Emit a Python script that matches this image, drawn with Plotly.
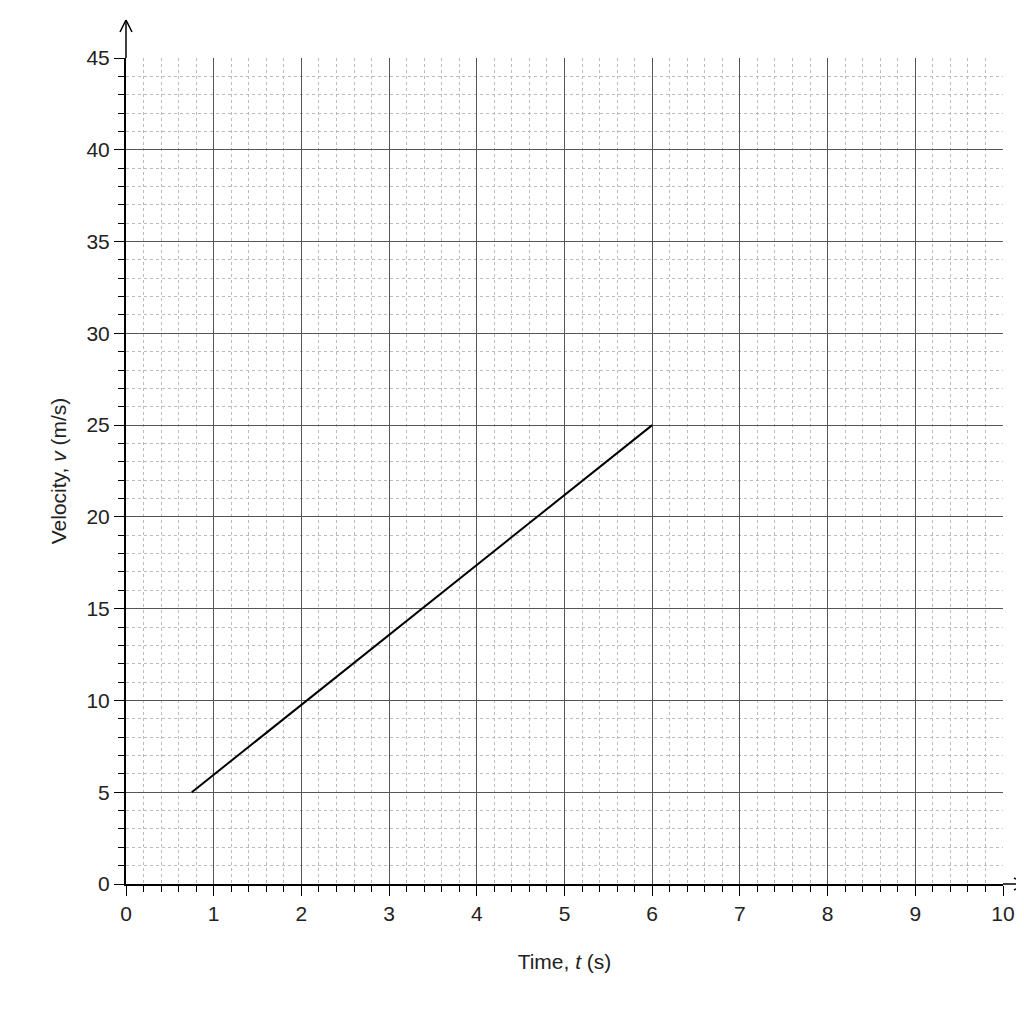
import plotly.graph_objects as go

time_s = [0.75, 6]
velocity = [5, 25]
x_ticks = list(range(0, 11))
y_ticks = list(range(0, 50, 5))

W, H = 877.0, 826.0  # plot domain size in px

fig = go.Figure(go.Scatter(x=time_s, y=velocity, mode="lines",
                           line=dict(color="black", width=2), showlegend=False))
font = dict(family="Liberation Sans, Arial, sans-serif", size=21, color="#222")
fig.update_layout(width=1024, height=1024, margin=dict(l=118, r=29, t=50, b=148),
                  plot_bgcolor="white", paper_bgcolor="white", font=font)
fig.update_xaxes(range=[0, 10], tickvals=x_ticks, showgrid=True, gridcolor="#555", gridwidth=1,
                 tickfont=font, automargin=False,
                 minor=dict(dtick=0.2, showgrid=True, gridcolor="#bbb", griddash="dot",
                            ticks="outside", ticklen=6, tickcolor="black"),
                 ticks="outside", ticklen=10, tickcolor="black", showline=True, linecolor="black",
                 linewidth=2, zeroline=False, title=dict(text="Time, <i>t</i> (s)", standoff=30, font=font))
fig.update_yaxes(range=[0, 45], tickvals=y_ticks, showgrid=True, gridcolor="#555", gridwidth=1,
                 tickfont=font, automargin=False,
                 minor=dict(dtick=1, showgrid=True, gridcolor="#bbb", griddash="dot",
                            ticks="outside", ticklen=6, tickcolor="black"),
                 ticks="outside", ticklen=10, tickcolor="black", showline=True, linecolor="black",
                 linewidth=2, zeroline=False, title=dict(text="Velocity, <i>v</i> (m/s)", standoff=14, font=font))
ln = dict(color="black", width=1.5)
xt = 1 + 23 / W
yt = 1 + 38 / H
fig.add_shape(type="line", xref="paper", yref="paper", x0=1, x1=xt, y0=0, y1=0, line=ln)
fig.add_shape(type="line", xref="paper", yref="paper", x0=xt - 12 / W, x1=xt, y0=6 / H, y1=0, line=ln)
fig.add_shape(type="line", xref="paper", yref="paper", x0=xt - 12 / W, x1=xt, y0=-6 / H, y1=0, line=ln)
fig.add_shape(type="line", xref="paper", yref="paper", x0=0, x1=0, y0=1, y1=yt, line=ln)
fig.add_shape(type="line", xref="paper", yref="paper", x0=-6 / W, x1=0, y0=yt - 12 / H, y1=yt, line=ln)
fig.add_shape(type="line", xref="paper", yref="paper", x0=6 / W, x1=0, y0=yt - 12 / H, y1=yt, line=ln)
fig.write_html("out.html")
